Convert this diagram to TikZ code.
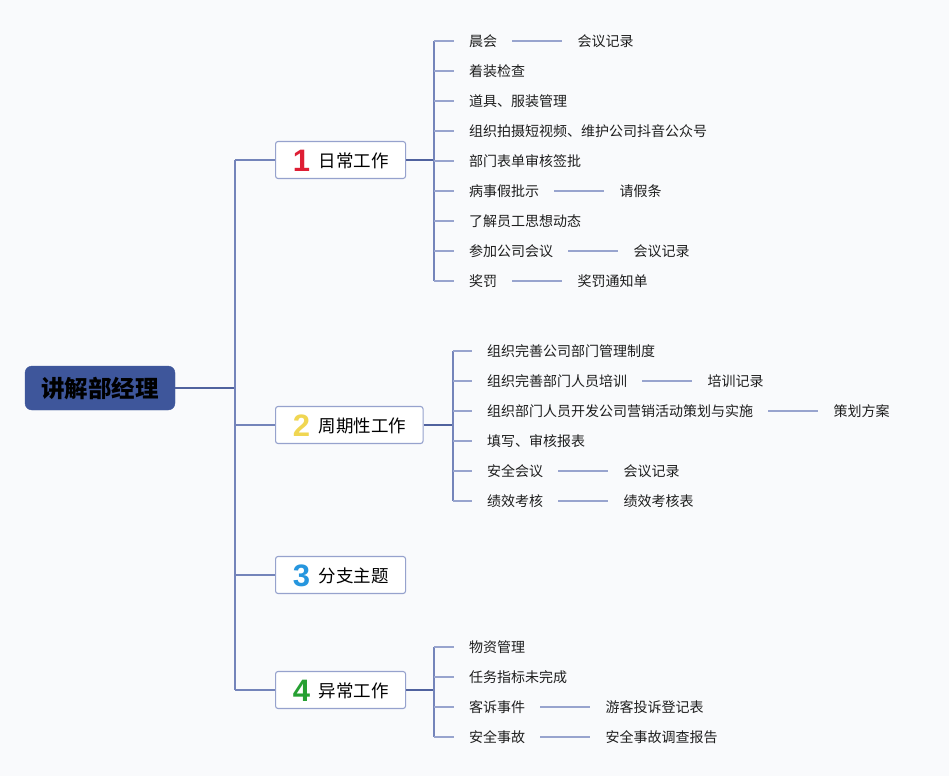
\documentclass[tikz,border=0pt]{standalone}
\usepackage{fontspec}
\setmainfont{Noto Sans CJK SC}
\newfontfamily\numfont{Liberation Sans}
\usetikzlibrary{positioning}
\definecolor{bgc}{RGB}{249,250,252}
\definecolor{rootc}{RGB}{62,86,155}
\definecolor{boxc}{RGB}{150,162,205}
\definecolor{darkl}{RGB}{80,98,158}
\definecolor{midl}{RGB}{116,132,186}
\definecolor{lightl}{RGB}{152,164,206}
\definecolor{leafc}{RGB}{30,30,30}
\definecolor{nred}{RGB}{222,30,52}
\definecolor{nyel}{RGB}{240,214,82}
\definecolor{nblu}{RGB}{38,150,222}
\definecolor{ngrn}{RGB}{38,160,50}
\newcommand{\numlab}[2]{\raisebox{-3.5pt}{\makebox[18pt]{\numfont\bfseries\fontsize{31}{31}\selectfont\color{#1}#2}}\hspace{8pt}}
\begin{document}
\begin{tikzpicture}[x=1pt,y=-1pt,
  rootbox/.style={draw=rootc,fill=rootc,rounded corners=7pt,minimum width=150pt,minimum height=44pt,inner sep=0pt,
    font=\bfseries\fontsize{23.5}{26}\selectfont,text=black},
  branchbox/.style={anchor=west,draw=boxc,line width=1.1pt,fill=white,rounded corners=2.5pt,minimum height=37pt,
    inner xsep=17pt,inner ysep=0pt,text height=17pt,text depth=1.8pt,font=\fontsize{17.5}{20}\selectfont,text=black},
  leaf/.style={anchor=west,inner xsep=15pt,inner ysep=0pt,text height=12pt,text depth=1.5pt,
    font=\fontsize{14}{16}\selectfont,text=leafc},
  subleaf/.style={leaf,right=50pt of #1},
  trunkline/.style={draw=midl,line width=1.1pt},
  hubline/.style={draw=darkl,line width=1.5pt},
  tick/.style={draw=lightl,line width=1.1pt},
]
\useasboundingbox[fill=bgc] (0,0) rectangle (949,776);

% root
\node[rootbox] (root) at (100,388) {讲解部经理};
\coordinate (t0) at (235,388);
\coordinate (tA) at (235,160);
\coordinate (tB) at (235,690);
\draw[hubline] (root.east) -- (t0);
\draw[trunkline] (tA) -- (tB);

% branches
\node[branchbox] (b1) at (275,160) {\numlab{nred}{1}日常工作};
\node[branchbox] (b2) at (275,425) {\numlab{nyel}{2}周期性工作};
\node[branchbox] (b3) at (275,575) {\numlab{nblu}{3}分支主题};
\node[branchbox] (b4) at (275,690) {\numlab{ngrn}{4}异常工作};
\coordinate (tb2) at (235,425);
\coordinate (tb3) at (235,575);
\draw[trunkline] (tA) -- (b1.west);
\draw[trunkline] (tb2) -- (b2.west);
\draw[trunkline] (tb3) -- (b3.west);
\draw[trunkline] (tB) -- (b4.west);

% hubs
\coordinate (h1) at (434,160);
\coordinate (h2) at (453,425);
\coordinate (h4) at (434,690);
\draw[hubline] (b1.east) -- (h1);
\draw[hubline] (b2.east) -- (h2);
\draw[hubline] (b4.east) -- (h4);

% branch 1 leaves
\node[leaf] (l11) at (454,41)  {晨会};
\node[leaf] (l12) at (454,71)  {着装检查};
\node[leaf] (l13) at (454,101) {道具、服装管理};
\node[leaf] (l14) at (454,131) {组织拍摄短视频、维护公司抖音公众号};
\node[leaf] (l15) at (454,161) {部门表单审核签批};
\node[leaf] (l16) at (454,191) {病事假批示};
\node[leaf] (l17) at (454,221) {了解员工思想动态};
\node[leaf] (l18) at (454,251) {参加公司会议};
\node[leaf] (l19) at (454,281) {奖罚};
\node[subleaf=l11] (s11) {会议记录};
\node[subleaf=l16] (s16) {请假条};
\node[subleaf=l18] (s18) {会议记录};
\node[subleaf=l19] (s19) {奖罚通知单};
\draw[trunkline] (434,41) -- (434,281);
\foreach \n in {11,12,13,14,15,16,17,18,19}
  \draw[tick] (l\n.west -| h1) -- (l\n.west);
\foreach \n in {11,16,18,19}
  \draw[tick] (l\n.east) -- (s\n.west);

% branch 2 leaves
\node[leaf] (l21) at (472,351) {组织完善公司部门管理制度};
\node[leaf] (l22) at (472,381) {组织完善部门人员培训};
\node[leaf] (l23) at (472,411) {组织部门人员开发公司营销活动策划与实施};
\node[leaf] (l24) at (472,441) {填写、审核报表};
\node[leaf] (l25) at (472,471) {安全会议};
\node[leaf] (l26) at (472,501) {绩效考核};
\node[subleaf=l22] (s22) {培训记录};
\node[subleaf=l23] (s23) {策划方案};
\node[subleaf=l25] (s25) {会议记录};
\node[subleaf=l26] (s26) {绩效考核表};
\draw[trunkline] (453,351) -- (453,501);
\foreach \n in {21,22,23,24,25,26}
  \draw[tick] (l\n.west -| h2) -- (l\n.west);
\foreach \n in {22,23,25,26}
  \draw[tick] (l\n.east) -- (s\n.west);

% branch 4 leaves
\node[leaf] (l41) at (454,647) {物资管理};
\node[leaf] (l42) at (454,677) {任务指标未完成};
\node[leaf] (l43) at (454,707) {客诉事件};
\node[leaf] (l44) at (454,737) {安全事故};
\node[subleaf=l43] (s43) {游客投诉登记表};
\node[subleaf=l44] (s44) {安全事故调查报告};
\draw[trunkline] (434,647) -- (434,737);
\foreach \n in {41,42,43,44}
  \draw[tick] (l\n.west -| h4) -- (l\n.west);
\foreach \n in {43,44}
  \draw[tick] (l\n.east) -- (s\n.west);
\end{tikzpicture}
\end{document}
